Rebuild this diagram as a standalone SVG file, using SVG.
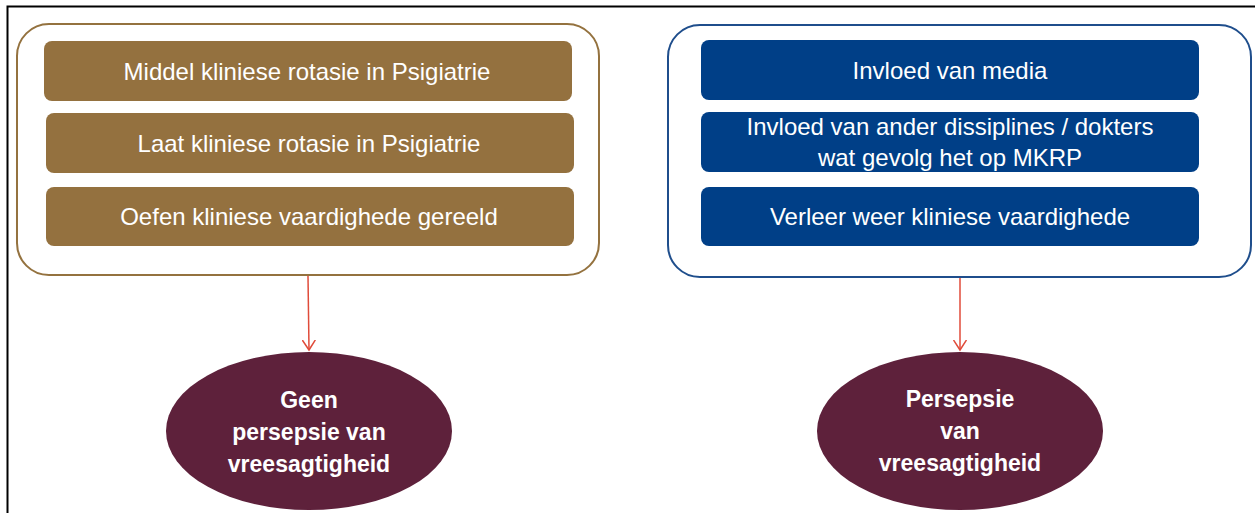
<svg xmlns="http://www.w3.org/2000/svg" width="1255" height="513" viewBox="0 0 1255 513">
<style>
.bt{font-family:"Liberation Sans",Arial,sans-serif;font-size:24px;fill:#fff;text-anchor:middle}
.et{font-family:"Liberation Sans",Arial,sans-serif;font-size:23px;font-weight:bold;fill:#fff;text-anchor:middle}
.brn{fill:#94713f}
.blu{fill:#003f87}
.conn{stroke:#e04b3a;stroke-width:1.5;fill:none}
</style>
<defs>
<marker id="arr" viewBox="0 0 12 14" refX="10" refY="7" markerWidth="12" markerHeight="14" markerUnits="userSpaceOnUse" orient="auto">
<path d="M0,0.5 L10,7 L0,13.5" fill="none" stroke="#e04b3a" stroke-width="1.5"/>
</marker>
</defs>
<rect width="1255" height="513" fill="#fff"/>
<path d="M7.5,513 V6.5 H1255" fill="none" stroke="#000" stroke-width="2"/>
<g id="left-group">
<rect x="17" y="24" width="582" height="251" rx="32" fill="#fff" stroke="#94723f" stroke-width="2"/>
<g id="l1"><rect class="brn" x="44" y="41" width="528" height="60" rx="8"/><text class="bt" x="307" y="80">Middel kliniese rotasie in Psigiatrie</text></g>
<g id="l2"><rect class="brn" x="46" y="113" width="528" height="60" rx="8"/><text class="bt" x="309" y="152">Laat kliniese rotasie in Psigiatrie</text></g>
<g id="l3"><rect class="brn" x="46" y="187" width="528" height="59" rx="8"/><text class="bt" x="309" y="225">Oefen kliniese vaardighede gereeld</text></g>
</g>
<g id="right-group">
<rect x="668" y="25" width="583" height="252" rx="32" fill="#fff" stroke="#1f4e8c" stroke-width="2"/>
<g id="r1"><rect class="blu" x="701" y="40" width="498" height="60" rx="8"/><text class="bt" x="950" y="79">Invloed van media</text></g>
<g id="r2"><rect class="blu" x="701" y="112" width="498" height="60" rx="8"/><text class="bt" x="950" y="135">Invloed van ander dissiplines / dokters</text><text class="bt" x="950" y="166">wat gevolg het op MKRP</text></g>
<g id="r3"><rect class="blu" x="701" y="187" width="498" height="59" rx="8"/><text class="bt" x="950" y="225">Verleer weer kliniese vaardighede</text></g>
</g>
<g id="connectors">
<line class="conn" x1="308" y1="276" x2="309" y2="350" marker-end="url(#arr)"/>
<line class="conn" x1="960" y1="278" x2="960" y2="350" marker-end="url(#arr)"/>
</g>
<g id="e-left">
<ellipse cx="309" cy="431" rx="143" ry="79" fill="#5e213b"/>
<text class="et" x="309" y="408">Geen</text>
<text class="et" x="309" y="440">persepsie van</text>
<text class="et" x="309" y="472">vreesagtigheid</text>
</g>
<g id="e-right">
<ellipse cx="960" cy="431" rx="143" ry="79" fill="#5e213b"/>
<text class="et" x="960" y="407">Persepsie</text>
<text class="et" x="960" y="439">van</text>
<text class="et" x="960" y="471">vreesagtigheid</text>
</g>
</svg>
